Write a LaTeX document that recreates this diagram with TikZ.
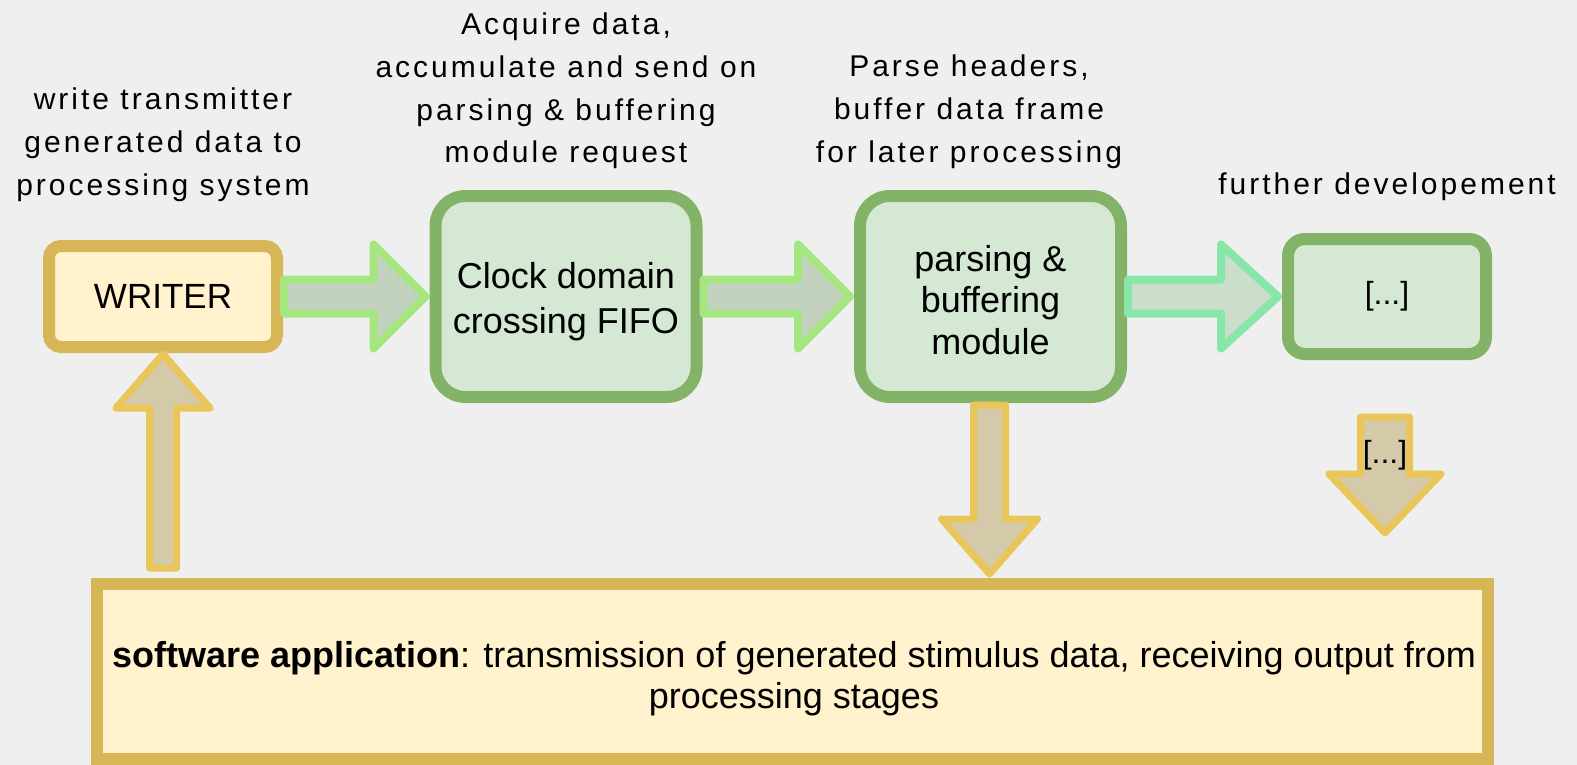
\documentclass[tikz,border=0pt]{standalone}
\usepackage{fontspec}
\setmainfont{Liberation Sans}
\newfontfamily\trackedfont[LetterSpace=10]{Liberation Sans}
\usetikzlibrary{positioning,calc}
\definecolor{BgGray}{HTML}{EFEFEF}
\definecolor{GreenLine}{HTML}{82B366}
\definecolor{GreenFill}{HTML}{D5E8D4}
\definecolor{GoldLine}{HTML}{D6B656}
\definecolor{GoldFill}{HTML}{FFF2CC}
\definecolor{LimeLine}{HTML}{A6E680}
\definecolor{LimeFill}{HTML}{C2D2BE}
\definecolor{MintLine}{HTML}{88E6A8}
\definecolor{MintFill}{HTML}{CBDDCB}
\definecolor{SandLine}{HTML}{EAC55A}
\definecolor{SandFill}{HTML}{D4CAA9}
\tikzset{
  every node/.style = {text=black, inner sep=0pt},
  stage/.style      = {draw=GreenLine, fill=GreenFill, line width=12pt,
                       align=center, font=\fontsize{36}{41.5}\selectfont},
  stage_big/.style  = {stage, minimum width=261pt, minimum height=201pt,
                       rounded corners=30pt},
  stage_small/.style= {stage, minimum width=198pt, minimum height=115pt,
                       rounded corners=17pt, font=\fontsize{32}{38}\selectfont},
  hostbox/.style    = {draw=GoldLine, fill=GoldFill, line width=12pt},
  note/.style       = {align=center, anchor=base,
                       font=\trackedfont\fontsize{30}{42.7}\selectfont},
  flow/.style       = {draw=LimeLine, fill=LimeFill, line width=8pt,
                       line join=round},
  flow_next/.style  = {flow, draw=MintLine, fill=MintFill},
  hostflow/.style   = {flow, draw=SandLine, fill=SandFill, line width=7pt},
}
\def\ShaftW{17}
\def\HeadW{52}
\def\HeadL{52}

\begin{document}
\begin{tikzpicture}[x=1pt, y=-1pt]

% =========================================================================
% Canvas
% =========================================================================
\fill[BgGray] (0,0) rectangle (1577,765);
\useasboundingbox (0,0) rectangle (1577,765);

% =========================================================================
% Blocks
% =========================================================================
\node[hostbox, rounded corners=12pt, minimum width=228pt, minimum height=101pt,
      font=\fontsize{35}{40}\selectfont]
  (writer) at (163, 296.5) {WRITER};
\node[stage_big, font=\fontsize{36}{45}\selectfont]
  (clock) at (566, 296.5) {\rule{0pt}{36pt}Clock domain\\crossing FIFO};
\node[stage_big]
  (parse) at (990.5, 296.5) {\rule{0pt}{33pt}parsing \&\\buffering\\module};
\node[stage_small] (more)  at (1387, 296.5)   {[...]};

\node[hostbox, minimum width=1391pt, minimum height=175pt]
  (soft) at (792.5, 671.5) {};
% base anchor = baseline of the last line
\node[align=center, anchor=base, font=\fontsize{36}{41}\selectfont]
  (softtext) at (794, 708)
  {\textbf{software application}: transmission of generated stimulus data, receiving output from\\processing stages};

% =========================================================================
% Annotations above the blocks (anchored on their last baseline)
% =========================================================================
\node[note] (writernote) at (163, 195)
  {write transmitter\\generated data to\\processing system};
\node[note] (clocknote) at (566, 163)
  {Acquire data,\\accumulate and send on\\parsing \& buffering\\module request};
\node[note] (parsenote) at (969, 162)
  {Parse headers,\\buffer data frame\\for later processing};
\node[note] (morenote) at (1387, 194) {further developement};

% =========================================================================
% Horizontal block arrows
% =========================================================================
\coordinate (a1s) at ($(writer.east)+(1,0)$);
\coordinate (a1t) at ($(clock.west)+(-4,0)$);
\draw[flow] ($(a1s)+(0,-\ShaftW)$) -- ($(a1t)+(-\HeadL,-\ShaftW)$)
  -- ($(a1t)+(-\HeadL,-\HeadW)$) -- (a1t) -- ($(a1t)+(-\HeadL,\HeadW)$)
  -- ($(a1t)+(-\HeadL,\ShaftW)$) -- ($(a1s)+(0,\ShaftW)$) -- cycle;

\coordinate (a2s) at ($(clock.east)+(1,0)$);
\coordinate (a2t) at ($(parse.west)+(-4,0)$);
\draw[flow] ($(a2s)+(0,-\ShaftW)$) -- ($(a2t)+(-\HeadL,-\ShaftW)$)
  -- ($(a2t)+(-\HeadL,-\HeadW)$) -- (a2t) -- ($(a2t)+(-\HeadL,\HeadW)$)
  -- ($(a2t)+(-\HeadL,\ShaftW)$) -- ($(a2s)+(0,\ShaftW)$) -- cycle;

\coordinate (a3s) at ($(parse.east)+(1,0)$);
\coordinate (a3t) at ($(more.west)+(-4,0)$);
\draw[flow_next] ($(a3s)+(0,-\ShaftW)$) -- ($(a3t)+(-57,-\ShaftW)$)
  -- ($(a3t)+(-57,-\HeadW)$) -- (a3t) -- ($(a3t)+(-57,\HeadW)$)
  -- ($(a3t)+(-57,\ShaftW)$) -- ($(a3s)+(0,\ShaftW)$) -- cycle;

% =========================================================================
% Vertical block arrows (to / from the software application)
% =========================================================================
\coordinate (u1s) at ($(writer.south |- soft.north)+(0,-10)$);
\coordinate (u1t) at ($(writer.south)+(0,1)$);
\draw[hostflow] ($(u1s)+(-13.5,0)$) -- ($(u1t)+(-13.5,54)$)
  -- ($(u1t)+(-47,54)$) -- (u1t) -- ($(u1t)+(47,54)$)
  -- ($(u1t)+(13.5,54)$) -- ($(u1s)+(13.5,0)$) -- cycle;

\coordinate (d1s) at ($(parse.south)+(-1,2)$);
\coordinate (d1t) at ($(d1s |- soft.north)+(0,-4)$);
\draw[hostflow] ($(d1s)+(-16,0)$) -- ($(d1t)+(-16,-55)$)
  -- ($(d1t)+(-48,-55)$) -- (d1t) -- ($(d1t)+(48,-55)$)
  -- ($(d1t)+(16,-55)$) -- ($(d1s)+(16,0)$) -- cycle;

\coordinate (d2s) at ($(more.south)+(-2,57)$);
\coordinate (d2t) at ($(more.south)+(-2,173)$);
\draw[hostflow] ($(d2s)+(-24.5,0)$) -- ($(d2t)+(-24.5,-59)$)
  -- ($(d2t)+(-56,-59)$) -- (d2t) -- ($(d2t)+(56,-59)$)
  -- ($(d2t)+(24.5,-59)$) -- ($(d2s)+(24.5,0)$) -- cycle;
\node[font=\fontsize{32}{38}\selectfont] (moredots) at (1385, 455) {[...]};

\end{tikzpicture}
\end{document}
